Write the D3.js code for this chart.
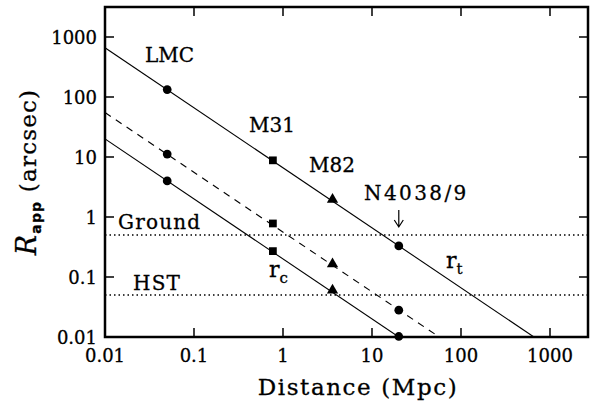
<!DOCTYPE html>
<html lang="en">
<head>
    <meta charset="UTF-8">
    <title>Apparent radius vs distance</title>
    <script src="https://d3js.org/d3.v7.min.js"></script>
    <style>
        body { margin: 0; background: #fff; }
        svg text { font-family: "DejaVu Serif", serif; fill: #000; stroke: #000; stroke-width: 0.3px; }
    </style>
</head>
<body>
    <svg id="chart" width="590" height="402"></svg>
    <script>
        // galaxy distances (Mpc) and radii (arcsec)
        const galaxies = ["LMC", "M31", "M82", "N4038/9"];
        const distances = [0.05, 0.77, 3.6, 20];
        const symbols = ["circle", "square", "triangle", "circle"];
        const rtValues = [133, 8.8, 1.95, 0.33];
        const rhValues = [11.2, 0.78, 0.165, 0.028];
        const rcValues = [4.0, 0.27, 0.06, 0.0102];

        // line endpoints [distance, radius]
        const rtLine = [[0.01, 660], [660, 0.01]];
        const rhLine = [[0.01, 55], [57, 0.01]];
        const rcLine = [[0.01, 20], [20, 0.01]];

        const groundLimit = 0.5, hstLimit = 0.05;
        const xTicks = [0.01, 0.1, 1, 10, 100, 1000];
        const yTicks = [0.01, 0.1, 1, 10, 100, 1000];

        const svg = d3.select("#chart");
        const pLeft = 105, pRight = 588, pTop = 7, pBottom = 337;

        const x = d3.scaleLog().domain([0.01, Math.pow(10, 3.427)]).range([pLeft, pRight]);
        const y = d3.scaleLog().domain([0.01, Math.pow(10, 3.5)]).range([pBottom, pTop]);

        // clip for lines
        svg.append("defs").append("clipPath").attr("id", "plot")
            .append("rect").attr("x", pLeft).attr("y", pTop)
            .attr("width", pRight - pLeft).attr("height", pBottom - pTop);

        // dotted limits
        [groundLimit, hstLimit].forEach(v => {
            svg.append("line")
                .attr("x1", pLeft).attr("x2", pRight)
                .attr("y1", y(v)).attr("y2", y(v))
                .attr("stroke", "#000").attr("stroke-width", 1.5)
                .attr("stroke-dasharray", "1.5,3");
        });

        // model lines
        const line = d3.line().x(d => x(d[0])).y(d => y(d[1]));
        [[rtLine, null], [rhLine, "7,6"], [rcLine, null]].forEach(([pts, dash]) => {
            svg.append("path")
                .attr("d", line(pts))
                .attr("clip-path", "url(#plot)")
                .attr("fill", "none").attr("stroke", "#000").attr("stroke-width", 1.1)
                .attr("stroke-dasharray", dash);
        });

        // markers
        const symType = {circle: d3.symbolCircle, square: d3.symbolSquare, triangle: d3.symbolTriangle};
        const symSize = {circle: 60, square: 60, triangle: 55};
        [rtValues, rhValues, rcValues].forEach(vals => {
            vals.forEach((v, i) => {
                svg.append("path")
                    .attr("d", d3.symbol().type(symType[symbols[i]]).size(symSize[symbols[i]])())
                    .attr("transform", `translate(${x(distances[i])},${y(v)})`)
                    .attr("fill", "#000");
            });
        });

        // frame
        svg.append("rect")
            .attr("x", pLeft).attr("y", pTop)
            .attr("width", pRight - pLeft).attr("height", pBottom - pTop)
            .attr("fill", "none").attr("stroke", "#000").attr("stroke-width", 2.5);

        // ticks
        const tickLen = 9;
        xTicks.forEach(t => {
            svg.append("line").attr("x1", x(t)).attr("x2", x(t))
                .attr("y1", pBottom).attr("y2", pBottom - tickLen)
                .attr("stroke", "#000").attr("stroke-width", 1.5);
            svg.append("line").attr("x1", x(t)).attr("x2", x(t))
                .attr("y1", pTop).attr("y2", pTop + tickLen)
                .attr("stroke", "#000").attr("stroke-width", 1.5);
            svg.append("text").attr("x", x(t)).attr("y", 362)
                .attr("text-anchor", "middle").attr("font-size", 18)
                .text(String(t));
        });
        yTicks.forEach(t => {
            svg.append("line").attr("x1", pLeft).attr("x2", pLeft + tickLen)
                .attr("y1", y(t)).attr("y2", y(t))
                .attr("stroke", "#000").attr("stroke-width", 1.5);
            svg.append("line").attr("x1", pRight).attr("x2", pRight - tickLen)
                .attr("y1", y(t)).attr("y2", y(t))
                .attr("stroke", "#000").attr("stroke-width", 1.5);
            svg.append("text").attr("x", 97).attr("y", y(t) + 7)
                .attr("text-anchor", "end").attr("font-size", 18)
                .text(String(t));
        });

        // axis titles
        svg.append("text").attr("x", 358).attr("y", 395)
            .attr("text-anchor", "middle").attr("font-size", 23)
            .attr("letter-spacing", 1.6)
            .text("Distance (Mpc)");

        const yt = svg.append("text")
            .attr("transform", "translate(36,172) rotate(-90)")
            .attr("text-anchor", "middle").attr("font-size", 23)
            .attr("letter-spacing", 1.2);
        yt.append("tspan").attr("font-style", "italic").attr("font-size", 27).text("R");
        yt.append("tspan").attr("font-family", "DejaVu Sans").attr("font-weight", "bold")
            .attr("font-size", 14).attr("dy", 5).text("app");
        yt.append("tspan").attr("dy", -5).text(" (arcsec)");

        // galaxy labels
        const labelPos = [[145, 62], [249, 132], [309, 172], [364, 200]];
        const labelSpacing = [0, 0, 0, 2.4];
        galaxies.forEach((g, i) => {
            svg.append("text").attr("x", labelPos[i][0]).attr("y", labelPos[i][1])
                .attr("font-size", 20).attr("letter-spacing", labelSpacing[i]).text(g);
        });

        // arrow pointing at N4038/9
        const ax = x(distances[3]);
        svg.append("path")
            .attr("d", `M${ax},210 L${ax},227 M${ax - 4.5},220 L${ax},227 L${ax + 4.5},220`)
            .attr("fill", "none").attr("stroke", "#000").attr("stroke-width", 1.2);

        svg.append("text").attr("x", 118).attr("y", 229)
            .attr("font-size", 20).attr("letter-spacing", 1.2).text("Ground");
        svg.append("text").attr("x", 133).attr("y", 290)
            .attr("font-size", 20).attr("letter-spacing", 1.2).text("HST");

        const rt = svg.append("text").attr("x", 446).attr("y", 268).attr("font-size", 22);
        rt.append("tspan").text("r");
        rt.append("tspan").attr("font-size", 15).attr("dy", 6).text("t");
        const rc = svg.append("text").attr("x", 269).attr("y", 277).attr("font-size", 22);
        rc.append("tspan").text("r");
        rc.append("tspan").attr("font-size", 15).attr("dy", 6).text("c");
    </script>
</body>
</html>
